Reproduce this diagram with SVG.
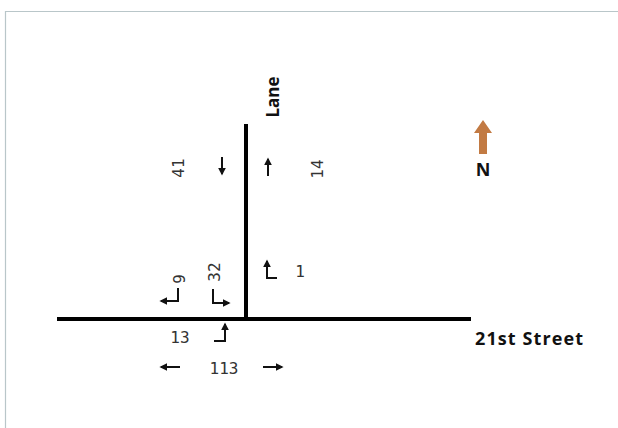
<svg xmlns="http://www.w3.org/2000/svg" width="618" height="428" viewBox="0 0 618 428">
<defs>
<marker id="ah" viewBox="0 0 10 10" refX="8" refY="5" markerWidth="4" markerHeight="4" orient="auto" markerUnits="strokeWidth">
<path d="M0,0 L10,5 L0,10 z" fill="#111"/>
</marker>
<style>
.road{stroke:#000;stroke-width:4;fill:none}
.mv{stroke:#111;stroke-width:2;fill:none;marker-end:url(#ah)}
.num{font-family:"DejaVu Sans Mono","Liberation Mono",monospace;font-size:16px;fill:#333}
.lbl{font-family:"Open Sans","Liberation Sans",Arial,sans-serif;font-weight:bold;fill:#111}
</style>
</defs>
<rect x="0" y="0" width="618" height="428" fill="#fff"/>
<path d="M5.5,428 V11.5 H618" stroke="#b9c6c9" stroke-width="1.2" fill="none"/>
<g id="roads">
<line class="road" x1="246" y1="124" x2="246" y2="321"/>
<line class="road" x1="57" y1="319" x2="471" y2="319"/>
</g>
<g id="labels">
<text class="lbl" font-size="17" transform="translate(279,97) rotate(-90)" text-anchor="middle">Lane</text>
<text class="lbl" font-size="18" font-weight="600" x="475" y="345" textLength="108">21st Street</text>
</g>
<g id="north">
<path d="M479,154 V133 H474 L483,120 L492,133 H487 V154 Z" fill="#c27a43"/>
<text class="lbl" font-size="18" x="483" y="176" text-anchor="middle">N</text>
</g>
<g id="connectors">
<path class="mv" d="M222,157 V174"/>
<path class="mv" d="M268,176 V159"/>
<path class="mv" d="M277,278 H267 V261"/>
<path class="mv" d="M178,288 V301 H161"/>
<path class="mv" d="M213,289 V303 H229"/>
<path class="mv" d="M214,341 H225 V324"/>
<path class="mv" d="M180,367 H161"/>
<path class="mv" d="M263,367 H282"/>
</g>
<g id="counts">
<text class="num" transform="translate(184,168) rotate(-90)" text-anchor="middle">41</text>
<text class="num" transform="translate(323,169) rotate(-90)" text-anchor="middle">14</text>
<text class="num" transform="translate(220,272) rotate(-90)" text-anchor="middle">32</text>
<text class="num" transform="translate(185,279) rotate(-90)" text-anchor="middle">9</text>
<text class="num" x="300" y="277" text-anchor="middle">1</text>
<text class="num" x="180" y="343" text-anchor="middle">13</text>
<text class="num" x="224" y="374" text-anchor="middle">113</text>
</g>
</svg>
